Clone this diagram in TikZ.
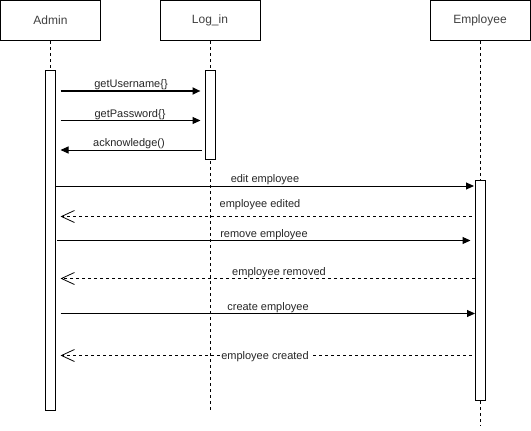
\documentclass[tikz,border=0pt]{standalone}
\usepackage{fontspec}
\setmainfont{Liberation Sans}
\usetikzlibrary{arrows.meta}
\tikzset{
  head/.style={draw, line width=1pt, minimum width=100pt, minimum height=40pt, inner sep=0pt, font=\fontsize{12}{14}\selectfont, text=black!75},
  act/.style={draw, line width=1pt, fill=white, minimum width=10pt, inner sep=0pt},
  life/.style={line width=1pt, dash pattern=on 3pt off 3pt},
  call/.style={line width=1pt, -{Triangle[length=8pt,width=7pt]}},
  ret/.style={line width=1pt, dash pattern=on 3pt off 3pt, -{Straight Barb[length=13pt,width=12pt,line width=0.8pt]}},
  lbl/.style={inner sep=0pt, font=\fontsize{11}{13}\selectfont, text=black!85, yshift=-2pt}
}
\begin{document}
\begin{tikzpicture}[x=1pt,y=-1pt]
\useasboundingbox (0,0) rectangle (531,431);
% headers
\node[head] (admin) at (50.5,20.5) {Admin};
\node[head] (login) at (210,20.5) {Log\_in};
\node[head] (emp) at (480,20.5) {Employee};
% lifelines
\coordinate (loginend) at (210,410);
\coordinate (empend) at (480,426);
\draw[life] (admin.south) -- (50.5,70);
\draw[life] (login.south) -- (loginend);
\draw[life] (emp.south) -- (empend);
% activations
\node[act, minimum height=340pt] (aact) at (50.5,240) {};
\node[act, minimum height=89pt] (lact) at (210.5,114.5) {};
\node[act, minimum height=220pt] (eact) at (480.5,290) {};
% coordinates for messages
\coordinate (a1) at (60.5,91);   \coordinate (l1) at (200.5,91);
\coordinate (a2) at (60.5,120.5); \coordinate (l2) at (200.5,120.5);
\coordinate (a3) at (60.5,150);  \coordinate (l3) at (201.5,150);
\coordinate (a4) at (55.5,186);  \coordinate (e4) at (474,186);
\coordinate (a5) at (60.5,216.5); \coordinate (e5) at (471.5,216.5);
\coordinate (a6) at (57,240.5);  \coordinate (e6) at (470.5,240.5);
\coordinate (a7) at (60.5,278.5); \coordinate (e7) at (475,278.5);
\coordinate (a8) at (60.5,313.5); \coordinate (e8) at (475,313.5);
\coordinate (a9) at (60.5,355.5); \coordinate (e9) at (471.5,355.5);
% messages
\draw[call, line width=2pt] (a1) -- (l1);
\node[lbl] (t1) at (131,83) {getUsername\{\}};
\draw[call] (a2) -- (l2);
\node[lbl] (t2) at (130,112.5) {getPassword\{\}};
\draw[call] (l3) -- (a3);
\node[lbl] (t3) at (129,142) {acknowledge()};
\draw[call] (a4) -- (e4);
\node[lbl] (t4) at (265,178) {edit employee};
\draw[ret] (e5) -- (a5);
\node[lbl] (t5) at (260,203) {employee edited};
\draw[ret] (e7) -- (a7);
\draw[call] (a6) -- (e6);
\node[lbl] (t6) at (264,232.5) {remove employee};
\node[lbl] (t7) at (279,271) {employee removed};
\draw[call] (a8) -- (e8);
\node[lbl] (t8) at (268,305.5) {create employee};
\draw[ret] (e9) -- (a9);
\node[lbl, fill=white, inner sep=1pt, yshift=1pt] (t9) at (265,356) {employee created};
\end{tikzpicture}
\end{document}
